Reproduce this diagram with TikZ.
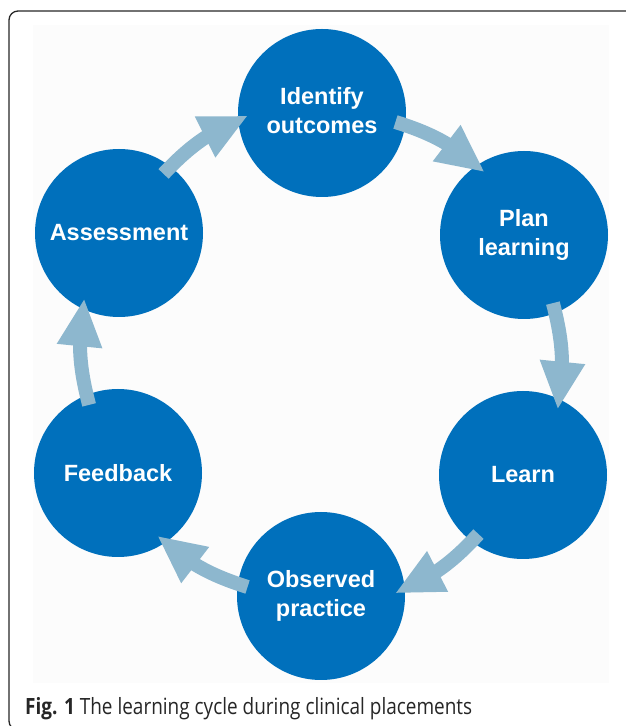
\documentclass[tikz,border=0pt]{standalone}
\usepackage{graphicx}
\usepackage{fontspec}
\setmainfont{Open Sans}
\newfontfamily\arialfont{Liberation Sans}
\usetikzlibrary{arrows.meta,bending}
\definecolor{stepblue}{RGB}{0,112,188}
\definecolor{flowblue}{RGB}{141,183,206}
\definecolor{panelgray}{RGB}{252,252,252}
\tikzset{
stage/.style={circle, fill=stepblue, minimum size=168pt, inner sep=0pt,
  outer sep=-10pt, text=white, align=center,
  font=\arialfont\bfseries\fontsize{23.5}{29}\selectfont},
flow/.style={draw=flowblue, line width=14pt,
  -{Triangle[width=42pt,length=48pt]}},
}

\begin{document}
\begin{tikzpicture}[x=1pt,y=1pt]
  \useasboundingbox (0,0) rectangle (625,726);
  \fill[panelgray] (33,43) rectangle (609,701);
  \draw[line width=1.3pt, black!85, rounded corners=9pt] (9,-4) rectangle (640,715);
  % the six stages
  \node[stage] (id) at (322,613) {Identify\\outcomes\vphantom{p}};
  \node[stage] (pl) at (524,491) {Plan\\learning};
  \node[stage] (le) at (523,251) {Learn};
  \node[stage] (ob) at (321,130) {Observed\\practice};
  \node[stage] (fb) at (118,253) {Feedback};
  \node[stage] (as) at (119,493) {Assessment};
  % arrows round the cycle
  \draw[flow] (id.-7) to[bend left=12] (pl.122);
  \draw[flow] (pl.-67) to[bend left=12] (le.62);
  \draw[flow] (le.-127) to[bend left=12] (ob.2);
  \draw[flow] (ob.173) to[bend left=12] (fb.-58);
  \draw[flow] (fb.113) to[bend left=12] (as.-118);
  \draw[flow] (as.53) to[bend left=12] (id.182);
  \node[anchor=base west, inner sep=0pt, text=black!85] (cap) at (25,12)
    {\resizebox{447pt}{\height}{\fontsize{22.4}{26}\selectfont\textbf{Fig. 1} The learning cycle during clinical placements}};
\end{tikzpicture}
\end{document}
